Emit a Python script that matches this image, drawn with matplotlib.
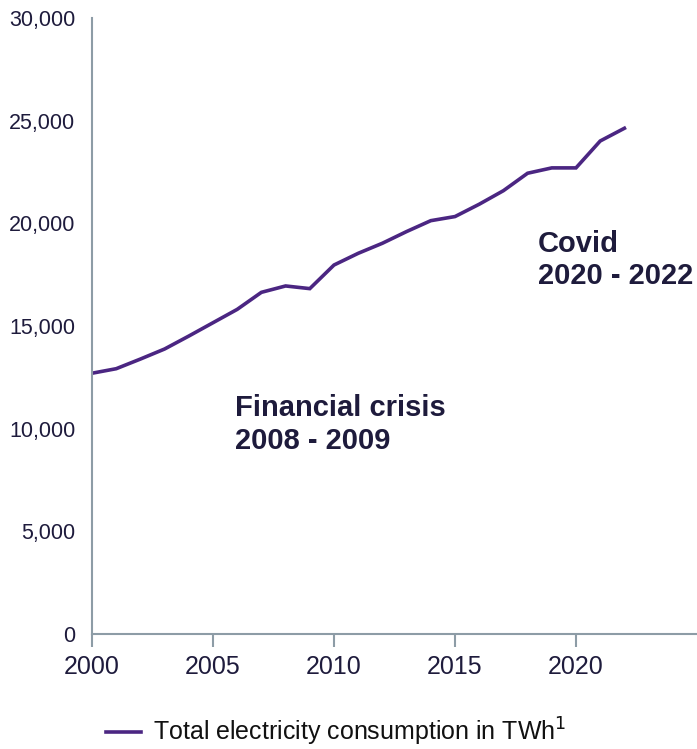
import matplotlib
matplotlib.use("Agg")
import matplotlib.pyplot as plt
from matplotlib.ticker import FuncFormatter

years = list(range(2000, 2023))
consumption = [12700, 12920, 13390, 13880, 14510, 15160, 15810, 16640, 16950, 16820,
               17970, 18540, 19030, 19600, 20130, 20330, 20930, 21590, 22440, 22700,
               22700, 24010, 24630]
x_ticks = [2000, 2005, 2010, 2015, 2020]
y_ticks = [0, 5000, 10000, 15000, 20000, 25000, 30000]
series_label = "Total electricity consumption in TWh$^{1}$"

plt.rcParams['font.family'] = ['Liberation Sans', 'DejaVu Sans']
text_color = "#1e1b3c"
axis_color = "#8d9ca6"
line_color = "#4b2682"

fig = plt.figure(figsize=(6.97, 7.49), dpi=100)
ax = fig.add_axes([92/697, 1-634/749, 1-92/697, (634-18)/749])

ax.plot(years, consumption, color=line_color, lw=2.6, solid_joinstyle='miter',
        label=series_label)

ax.set_xlim(2000, 2025)
ax.set_ylim(0, 30000)
ax.set_xticks(x_ticks)
ax.set_yticks(y_ticks)
ax.yaxis.set_major_formatter(FuncFormatter(lambda v, p: f"{int(v):,}"))

for s in ['top', 'right']:
    ax.spines[s].set_visible(False)
for s in ['left', 'bottom']:
    ax.spines[s].set_color(axis_color)
    ax.spines[s].set_linewidth(1.5)

ax.tick_params(axis='x', direction='out', length=9, width=1.5, color=axis_color,
               labelsize=18, labelcolor=text_color, pad=6)
ax.tick_params(axis='y', length=0, labelsize=15.5, labelcolor=text_color, pad=12)

ax.text(2005.92, 8730, "Financial crisis\n2008 - 2009", fontsize=21, fontweight='bold',
        color=text_color, ha='left', va='bottom', linespacing=1.2)
ax.text(2018.42, 16750, "Covid\n2020 - 2022", fontsize=21, fontweight='bold',
        color=text_color, ha='left', va='bottom', linespacing=1.2)

leg = fig.legend(loc='center', bbox_to_anchor=(336/697, 1-732/749), frameon=False,
                 fontsize=18, handlelength=1.4, handletextpad=0.5,
                 borderpad=0.1, borderaxespad=0.1)
for t in leg.get_texts():
    t.set_color("#111111")

fig.savefig("out.png", dpi=100)
